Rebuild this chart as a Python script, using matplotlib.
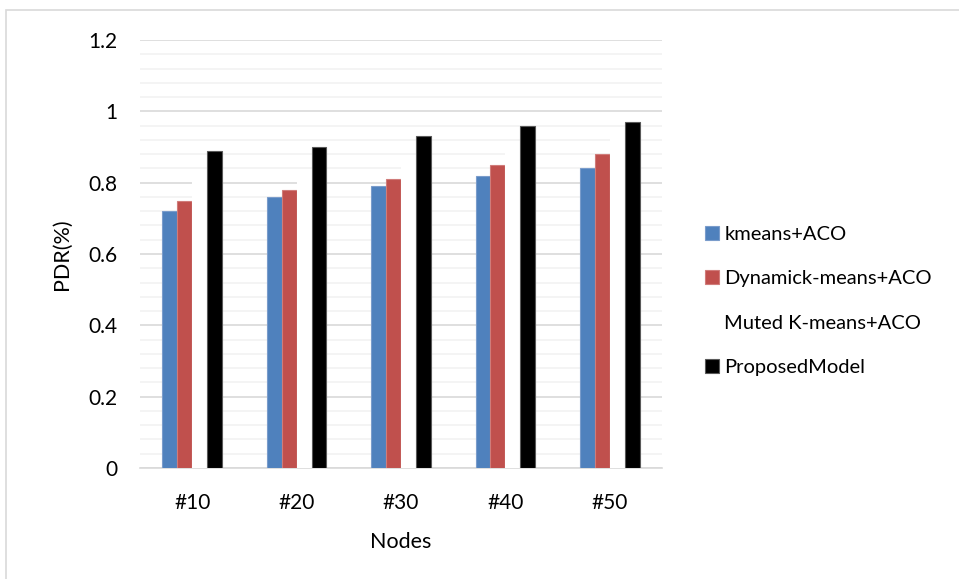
import numpy as np
import matplotlib
matplotlib.use("Agg")
import matplotlib.pyplot as plt
from matplotlib.patches import Rectangle

plt.rcParams['font.family'] = ['Lato', 'DejaVu Sans']

nodes = ['#10', '#20', '#30', '#40', '#50']
series_names = ['kmeans+ACO', 'Dynamick-means+ACO', 'Muted K-means+ACO', 'ProposedModel']
kmeans_aco = [0.72, 0.76, 0.79, 0.82, 0.84]
dynamic_kmeans_aco = [0.75, 0.78, 0.81, 0.85, 0.88]
muted_kmeans_aco = [0.82, 0.83, 0.86, 0.89, 0.93]
proposed_model = [0.89, 0.90, 0.93, 0.96, 0.97]
y_ticks = [0, 0.2, 0.4, 0.6, 0.8, 1, 1.2]

values = [kmeans_aco, dynamic_kmeans_aco, muted_kmeans_aco, proposed_model]
colors = ['#4F81BD', '#C0504D', '#FFFFFF', '#000000']
edges = ['#7A9CCB', '#D07C7A', '#FFFFFF', '#595959']

fig = plt.figure(figsize=(9.59, 5.79), dpi=100)
ax = fig.add_axes([140 / 959, 1 - 468 / 579, 522 / 959, 428 / 579])

# outer chart frame
fig.patches.append(Rectangle((6 / 959, -0.01), 1.0, 1 - 10 / 579 + 0.01, transform=fig.transFigure,
                             fill=False, edgecolor='#D9D9D9', linewidth=1.2))

x = np.arange(len(nodes))
width = 0.143
handles = []
for i, (vals, c, ec) in enumerate(zip(values, colors, edges)):
    bars = ax.bar(x + (i - 1.5) * width, vals, width, color=c, edgecolor=ec,
                  linewidth=0.8, zorder=3, label=series_names[i])
    handles.append(bars)

ax.set_xlim(-0.5, len(nodes) - 0.5)
ax.set_ylim(0, 1.2)
ax.set_yticks(y_ticks)
ax.set_yticklabels(['0', '0.2', '0.4', '0.6', '0.8', '1', '1.2'])
ax.set_yticks(np.arange(0, 1.2001, 0.04), minor=True)
ax.set_xticks(x)
ax.set_xticklabels(nodes)

ax.grid(axis='y', which='major', color='#D9D9D9', linewidth=1.2, zorder=0)
ax.grid(axis='y', which='minor', color='#F2F2F2', linewidth=1.2, zorder=0)
ax.set_axisbelow(True)

for side in ['top', 'right', 'left']:
    ax.spines[side].set_visible(False)
ax.spines['bottom'].set_color('#D9D9D9')
ax.spines['bottom'].set_linewidth(1.2)
ax.tick_params(axis='both', which='both', length=0, labelsize=15, colors='#000000')
ax.tick_params(axis='y', pad=16)
ax.tick_params(axis='x', pad=18)

ax.set_xlabel('Nodes', fontsize=15.5, labelpad=14)
ax.set_ylabel('PDR(%)', fontsize=15.5, labelpad=12)

fig.legend(handles=handles, labels=series_names, loc='upper left',
           bbox_to_anchor=(697 / 959, 1 - 218 / 579), frameon=False,
           fontsize=14.5, handlelength=0.7, handleheight=0.7, handletextpad=0.25,
           labelspacing=1.35, borderaxespad=0)

fig.savefig('out.png', dpi=100, facecolor='white')
